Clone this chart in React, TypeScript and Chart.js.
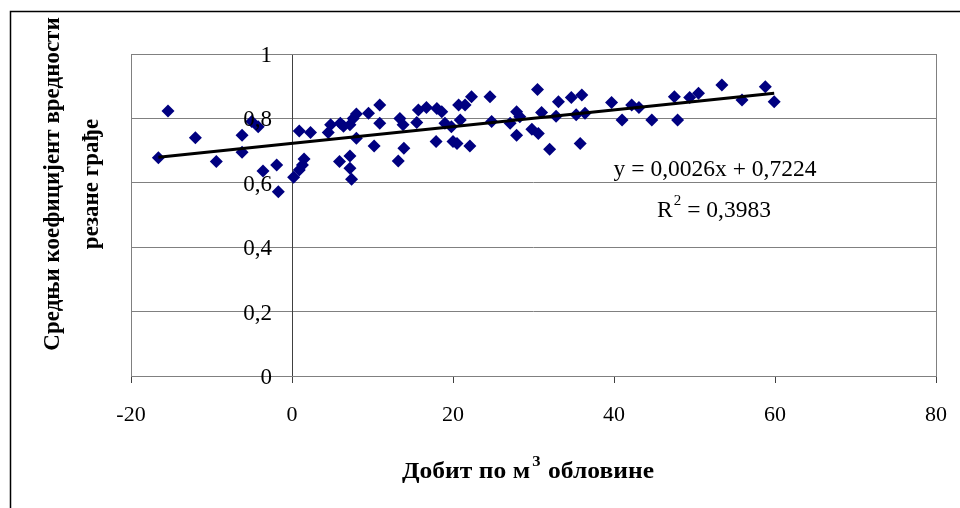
import React, { useEffect, useRef } from 'react';
import { Chart, registerables } from 'chart.js';

Chart.register(...registerables);

// Profit per m3 of roundwood (x) and mean value coefficient of sawn timber (y)
const profitX = [
  -16.6, -15.4, -12.0, -9.4, -6.2, -6.2, -5.0, -4.2, -3.6, -1.9, -1.7, 0.2, 0.9, 0.9, 1.3, 1.5, 2.3,
  4.5, 4.8, 6.0, 6.4, 7.2, 7.6, 8.0, 9.5, 10.9, 10.9, 8.0, 10.2, 5.9, 7.2, 7.2, 7.4,
  13.4, 13.8, 13.9, 13.2, 15.5, 15.7, 16.7, 18.0, 18.6, 17.9, 19.0, 20.0, 20.7, 21.5, 22.3, 24.6,
  20.9, 19.8, 20.5, 22.1, 24.8, 27.1, 27.9, 28.3, 27.9, 29.8, 30.6, 30.5, 31.0, 32.0, 32.8, 33.1,
  34.7, 36.0, 35.3, 36.4, 35.8, 39.7, 41.0, 42.2, 43.1, 44.7, 47.5, 47.9, 49.4, 50.5, 53.4, 55.9,
  58.8, 59.9,
];
const coefY = [
  0.678, 0.823, 0.740, 0.666, 0.748, 0.695, 0.790, 0.774, 0.637, 0.655, 0.572, 0.617, 0.761, 0.640, 0.655, 0.674, 0.756,
  0.756, 0.780, 0.785, 0.776, 0.780, 0.800, 0.814, 0.816, 0.842, 0.785, 0.738, 0.714, 0.666, 0.683, 0.645, 0.611,
  0.800, 0.780, 0.707, 0.668, 0.787, 0.826, 0.834, 0.831, 0.821, 0.728, 0.785, 0.728, 0.842, 0.842, 0.867, 0.867,
  0.795, 0.774, 0.722, 0.714, 0.790, 0.785, 0.821, 0.805, 0.748, 0.766, 0.753, 0.890, 0.818, 0.704, 0.807, 0.852,
  0.865, 0.873, 0.811, 0.816, 0.722, 0.849, 0.795, 0.842, 0.834, 0.795, 0.867, 0.795, 0.865, 0.878, 0.904, 0.857,
  0.898, 0.852,
];

const xTicks = [-20, 0, 20, 40, 60, 80];
const yTicks = [0, 0.2, 0.4, 0.6, 0.8, 1];

const trendSlope = 0.0026;
const trendIntercept = 0.7224;
const trendR2 = 0.3983;

const yTitleLines = ['Средњи коефицијент вредности', 'резане грађе'];
const xTitleMain = 'Добит по м';
const xTitleSup = '3';
const xTitleTail = ' обловине';

const SERIF = '"Liberation Serif", "Times New Roman", serif';

const fmt = (v: number) => String(parseFloat(v.toFixed(4))).replace('.', ',');

export default function App() {
  const ref = useRef<HTMLCanvasElement | null>(null);

  useEffect(() => {
    document.body.style.margin = '0';
    const canvas = ref.current;
    if (!canvas) return;

    const points = profitX.map((x, i) => ({ x, y: coefY[i] }));
    const minX = Math.min(...profitX);
    const maxX = Math.max(...profitX);
    const trend = [minX, maxX].map((x) => ({ x, y: trendSlope * x + trendIntercept }));

    const decor = {
      id: 'decor',
      beforeDatasetsDraw(chart: any) {
        const { ctx, chartArea: a } = chart;
        ctx.save();
        ctx.strokeStyle = '#808080';
        ctx.lineWidth = 1;
        ctx.strokeRect(Math.round(a.left) + 0.5, Math.round(a.top) + 0.5, Math.round(a.right - a.left), Math.round(a.bottom - a.top));
        ctx.restore();
      },
      afterDraw(chart: any) {
        const { ctx } = chart;
        const xs = chart.scales.x;
        const ys = chart.scales.y;
        ctx.save();
        // outer frame
        ctx.strokeStyle = '#000';
        ctx.lineWidth = 1.5;
        ctx.beginPath();
        ctx.moveTo(10.5, 520);
        ctx.lineTo(10.5, 11.5);
        ctx.lineTo(980, 11.5);
        ctx.stroke();

        ctx.fillStyle = '#000';

        // y tick labels next to the axis crossing at x = 0
        ctx.font = `23px ${SERIF}`;
        ctx.textAlign = 'right';
        ctx.textBaseline = 'middle';
        const axisX = xs.getPixelForValue(0);
        yTicks.forEach((v) => {
          ctx.fillText(fmt(v), axisX - 20, ys.getPixelForValue(v) + 2);
        });

        // y title
        ctx.font = `bold 23px ${SERIF}`;
        ctx.textAlign = 'center';
        ctx.textBaseline = 'middle';
        const cxs = [53, 92];
        yTitleLines.forEach((line, i) => {
          ctx.save();
          ctx.translate(cxs[i], 184);
          ctx.rotate(-Math.PI / 2);
          ctx.fillText(line, 0, 0);
          ctx.restore();
        });

        // x title with superscript
        const mainFont = `bold 23px ${SERIF}`;
        const supFont = `bold 15px ${SERIF}`;
        ctx.textAlign = 'left';
        ctx.textBaseline = 'alphabetic';
        ctx.font = mainFont;
        const w1 = ctx.measureText(xTitleMain).width;
        const w3 = ctx.measureText(xTitleTail).width;
        ctx.font = supFont;
        const w2 = ctx.measureText(xTitleSup).width + 3;
        const total = w1 + w2 + w3;
        const target = 252;
        const sx = target / total;
        ctx.save();
        ctx.translate(528 - target / 2, 478);
        ctx.scale(sx, 1);
        ctx.font = mainFont;
        ctx.fillText(xTitleMain, 0, 0);
        ctx.font = supFont;
        ctx.fillText(xTitleSup, w1 + 2, -12);
        ctx.font = mainFont;
        ctx.fillText(xTitleTail, w1 + w2, 0);
        ctx.restore();

        // equation & R^2
        const eqFont = `23.5px ${SERIF}`;
        const supEq = `15px ${SERIF}`;
        ctx.font = eqFont;
        ctx.textAlign = 'center';
        ctx.fillText(`y = ${fmt(trendSlope)}x + ${fmt(trendIntercept)}`, 715, 176);
        const rA = 'R';
        const rB = '2';
        const rC = ` = ${fmt(trendR2)}`;
        ctx.textAlign = 'left';
        const wa = ctx.measureText(rA).width;
        const wc = ctx.measureText(rC).width;
        ctx.font = supEq;
        const wb = ctx.measureText(rB).width + 1;
        const rx = 714 - (wa + wb + wc) / 2;
        const rb = 217;
        ctx.font = eqFont;
        ctx.fillText(rA, rx, rb);
        ctx.font = supEq;
        ctx.fillText(rB, rx + wa + 1, rb - 12);
        ctx.font = eqFont;
        ctx.fillText(rC, rx + wa + wb, rb);
        ctx.restore();
      },
    };

    const chart = new Chart(canvas, {
      type: 'scatter',
      data: {
        datasets: [
          {
            type: 'line',
            label: 'trend',
            data: trend,
            borderColor: '#000',
            borderWidth: 3,
            pointRadius: 0,
            fill: false,
          } as any,
          {
            label: 'data',
            data: points,
            pointStyle: 'rectRot',
            pointRadius: 6.5,
            backgroundColor: '#000080',
            borderColor: '#000080',
            borderWidth: 0,
          },
        ],
      },
      options: {
        animation: false,
        responsive: false,
        maintainAspectRatio: false,
        devicePixelRatio: 1,
        layout: { padding: { left: 131, right: 24, top: 54, bottom: 0 } },
        plugins: { legend: { display: false }, tooltip: { enabled: false } },
        scales: {
          x: {
            type: 'linear',
            min: xTicks[0],
            max: xTicks[xTicks.length - 1],
            afterBuildTicks: (s: any) => { s.ticks = xTicks.map((v) => ({ value: v })); },
            afterFit: (s: any) => { s.height = 132; s.paddingLeft = 0; s.paddingRight = 0; },
            border: { display: true, color: '#404040', width: 1 },
            grid: { drawOnChartArea: false, drawTicks: true, tickLength: 7, color: '#404040' },
            ticks: {
              padding: 19,
              color: '#000',
              font: { family: SERIF, size: 22 },
              maxRotation: 0,
              callback: (v: any) => String(v),
            },
          },
          y: {
            type: 'linear',
            position: { x: 0 } as any,
            min: yTicks[0],
            max: yTicks[yTicks.length - 1],
            afterBuildTicks: (s: any) => { s.ticks = yTicks.map((v) => ({ value: v })); },
            afterFit: (s: any) => { s.paddingTop = 0; s.paddingBottom = 0; },
            border: { display: true, color: '#404040', width: 1 },
            grid: { drawOnChartArea: true, drawTicks: true, tickLength: 7, color: '#808080' },
            ticks: { display: false },
          },
        },
      },
      plugins: [decor],
    });

    return () => chart.destroy();
  }, []);

  return <canvas ref={ref} width={960} height={508} style={{ display: 'block', width: 960, height: 508 }} />;
}
